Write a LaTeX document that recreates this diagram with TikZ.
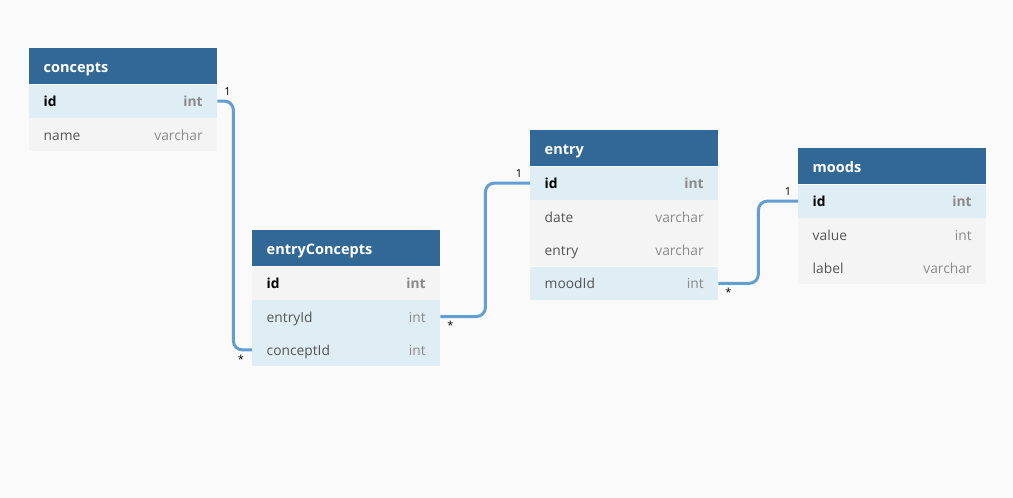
\documentclass[tikz,border=0pt]{standalone}
\usepackage{fontspec}
\setmainfont{Open Sans}
\usetikzlibrary{positioning}

\definecolor{bgcol}{HTML}{FAFAFA}
\definecolor{headcol}{HTML}{316896}
\definecolor{keycol}{HTML}{DFEDF5}
\definecolor{rowcol}{HTML}{F4F4F4}
\definecolor{namecol}{HTML}{555555}
\definecolor{typecol}{HTML}{8A8A8A}
\definecolor{linkcol}{HTML}{629ED3}

\newcommand{\fieldtext}[2]{\hbox to 159pt{\color{namecol}#1\hfill\color{typecol}#2}}
\newcommand{\idtext}{\hbox to 159pt{\bfseries\color{black}id\hfill\color{typecol}int}}

\tikzset{
    tblhead/.style={fill=headcol, text=white, font=\fontsize{14.5}{16}\selectfont\bfseries,
        minimum width=188, minimum height=36, inner sep=0pt, text height=15pt, text depth=1.5pt},
    keyrow/.style={fill=keycol, font=\fontsize{13.8}{15}\selectfont,
        minimum width=188, minimum height=33, inner sep=0pt, text height=13pt, text depth=2pt},
    plainrow/.style={keyrow, fill=rowcol},
    relline/.style={draw=linkcol, line width=3pt, rounded corners=9pt},
    card/.style={font=\fontsize{11}{12}\selectfont, inner sep=0pt}
}

\begin{document}
\begin{tikzpicture}[x=1pt, y=-1pt]
            \fill[bgcol] (0,0) rectangle (1013,498);
            \useasboundingbox (0,0) rectangle (1013,498);
            % concepts
            \node[tblhead, anchor=north west] (concepts) at (29,48) {\hbox to 159pt{concepts\hfill}};
            \node[keyrow, below=0pt of concepts] (conceptsId) {\idtext};
            \node[plainrow, below=0pt of conceptsId] (conceptsName) {\fieldtext{name}{varchar}};
            % entryConcepts
            \node[tblhead, anchor=north west] (entryConcepts) at (252,230) {\hbox to 159pt{entryConcepts\hfill}};
            \node[plainrow, below=0pt of entryConcepts] (ecId) {\idtext};
            \node[keyrow, below=0pt of ecId] (ecEntryId) {\fieldtext{entryId}{int}};
            \node[keyrow, below=0pt of ecEntryId] (ecConceptId) {\fieldtext{conceptId}{int}};
            % entry
            \node[tblhead, anchor=north west] (entry) at (530,130) {\hbox to 159pt{entry\hfill}};
            \node[keyrow, below=0pt of entry] (entryId) {\idtext};
            \node[plainrow, below=0pt of entryId] (entryDate) {\fieldtext{date}{varchar}};
            \node[plainrow, below=0pt of entryDate] (entryEntry) {\fieldtext{entry}{varchar}};
            \node[keyrow, below=0pt of entryEntry] (entryMoodId) {\fieldtext{moodId}{int}};
            % moods
            \node[tblhead, anchor=north west] (moods) at (798,148) {\hbox to 159pt{moods\hfill}};
            \node[keyrow, below=0pt of moods] (moodsId) {\idtext};
            \node[plainrow, below=0pt of moodsId] (moodsValue) {\fieldtext{value}{int}};
            \node[plainrow, below=0pt of moodsValue] (moodsLabel) {\fieldtext{label}{varchar}};
            % relations
            \draw[relline] (conceptsId.east) -- ++(16,0) |- (ecConceptId.west);
            \draw[relline] (ecEntryId.east) -- ++(45,0) |- (entryId.west);
            \draw[relline] (entryMoodId.east) -- ++(40,0) |- (moodsId.west);
            \node[card] at ([shift={(10,-10)}]conceptsId.east) {1};
            \node[card] at ([shift={(-11,9)}]ecConceptId.west) {*};
            \node[card] at ([shift={(10,9)}]ecEntryId.east) {*};
            \node[card] at ([shift={(-11,-10)}]entryId.west) {1};
            \node[card] at ([shift={(10,9)}]entryMoodId.east) {*};
            \node[card] at ([shift={(-10,-10)}]moodsId.west) {1};
        \end{tikzpicture}
\end{document}
